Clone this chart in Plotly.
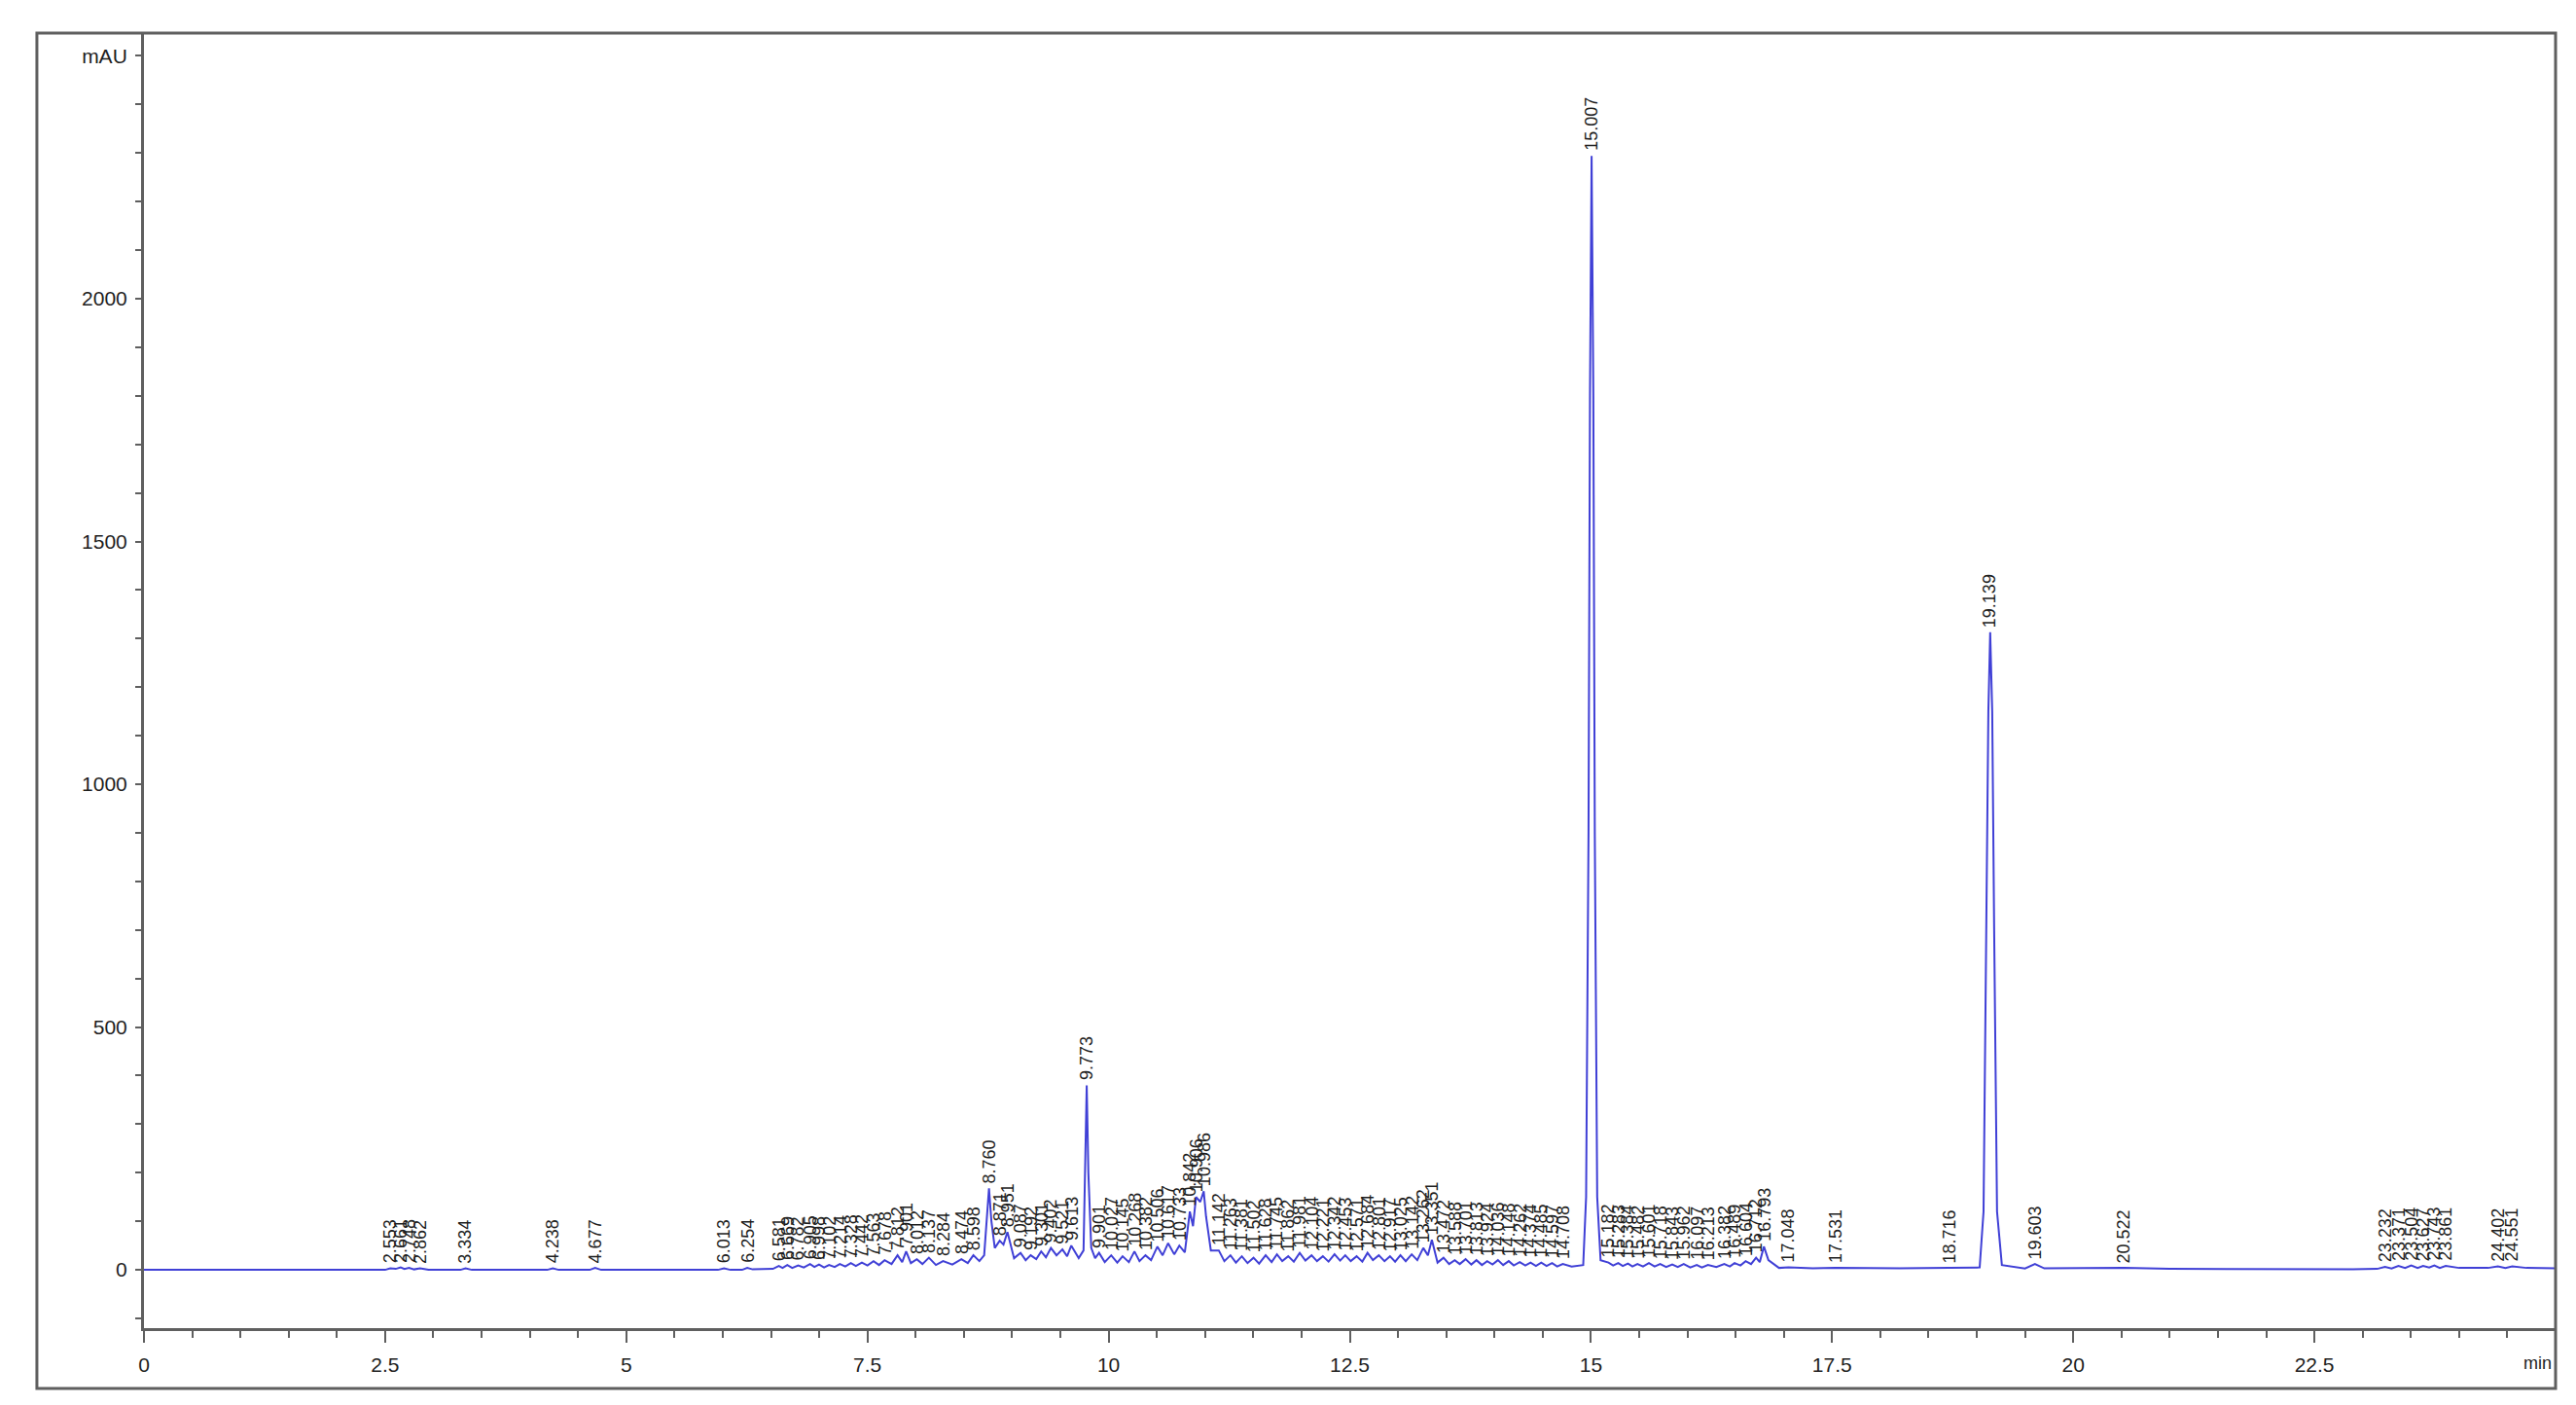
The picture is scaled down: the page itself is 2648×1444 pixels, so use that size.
import plotly.graph_objects as go

# labelled peaks: retention time (min) and apex signal (mAU)
peak_rt = [2.553, 2.661, 2.748, 2.862, 3.334, 4.238, 4.677, 6.013, 6.254,
           6.581, 6.669, 6.782, 6.905, 6.998, 7.102, 7.214, 7.328, 7.442, 7.563,
           7.678, 7.812, 7.901, 8.012, 8.137, 8.284, 8.474, 8.598, 8.760, 8.871,
           8.951, 9.087, 9.192, 9.301, 9.402, 9.521, 9.613, 9.773, 9.901, 10.027,
           10.145, 10.268, 10.382, 10.506, 10.617, 10.733, 10.842, 10.906, 10.986, 11.142,
           11.263, 11.381, 11.502, 11.628, 11.745, 11.862, 11.981, 12.104, 12.221, 12.342,
           12.453, 12.571, 12.684, 12.801, 12.917, 13.025, 13.142, 13.262, 13.351, 13.472,
           13.588, 13.701, 13.813, 13.924, 14.036, 14.148, 14.262, 14.374, 14.485, 14.597,
           14.708, 15.007, 15.182, 15.283, 15.384, 15.482, 15.601, 15.718, 15.843, 15.962,
           16.097, 16.213, 16.382, 16.489, 16.604, 16.712, 16.793, 17.048, 17.531, 18.716,
           19.139, 19.603, 20.522, 23.232, 23.371, 23.504, 23.627, 23.743, 23.861, 24.402,
           24.551]
peak_mau = [3, 5, 4, 3, 3, 3, 4, 3, 4,
            8, 10, 9, 12, 11, 10, 12, 14, 15, 18,
            20, 30, 38, 22, 25, 18, 22, 30, 168, 60,
            78, 35, 30, 38, 45, 42, 50, 380, 35, 30,
            28, 38, 30, 48, 55, 50, 120, 150, 162, 40,
            30, 28, 25, 30, 32, 28, 35, 30, 28, 32,
            30, 28, 35, 30, 28, 30, 32, 45, 62, 25,
            20, 22, 20, 18, 20, 18, 16, 15, 15, 14,
            12, 2294, 15, 14, 13, 12, 14, 12, 11, 12,
            10, 10, 12, 14, 18, 25, 48, 5, 4, 4,
            1313, 12, 4, 6, 8, 9, 8, 9, 8, 7,
            7]

# valleys and flank points of the trace (min, mAU)
valley_t = [0.0, 2.50, 2.61, 2.70, 2.80, 2.95, 3.28, 3.40, 4.18, 4.30, 4.62, 4.74,
            5.95, 6.08, 6.20, 6.31, 6.52, 6.62, 6.72, 6.84, 6.95, 7.05, 7.16, 7.27,
            7.38, 7.50, 7.62, 7.75, 7.86, 7.95, 8.07, 8.21, 8.38, 8.54, 8.66, 8.71,
            8.735, 8.785, 8.82, 8.91, 9.02, 9.14, 9.25, 9.35, 9.46, 9.57, 9.69, 9.74,
            9.755, 9.79, 9.82, 9.86, 9.96, 10.09, 10.21, 10.32, 10.44, 10.56, 10.68, 10.79,
            10.875, 10.95, 11.01, 11.06, 11.20, 11.32, 11.44, 11.56, 11.69, 11.80, 11.92,
            12.04, 12.16, 12.28, 12.40, 12.51, 12.63, 12.74, 12.86, 12.97, 13.08, 13.20,
            13.31, 13.41, 13.53, 13.64, 13.76, 13.87, 13.98, 14.09, 14.20, 14.32, 14.43,
            14.54, 14.65, 14.80, 14.92, 14.95, 14.975, 14.99, 15.025, 15.04, 15.065, 15.10,
            15.23, 15.33, 15.43, 15.54, 15.66, 15.78, 15.90, 16.03, 16.15, 16.30, 16.44,
            16.55, 16.66, 16.75, 16.84, 16.95, 17.30, 18.20, 19.03, 19.07, 19.10, 19.12,
            19.16, 19.18, 19.21, 19.26, 19.50, 19.70, 21.00, 22.90, 23.15, 23.30, 23.44,
            23.57, 23.69, 23.80, 24.00, 24.30, 24.48, 24.70, 25.0]
valley_mau = [0, 0, 2, 2, 1, 0, 0, 0, 0, 0, 0, 0,
              0, 0, 0, 1, 2, 4, 4, 5, 6, 5, 6, 7,
              8, 9, 10, 12, 16, 14, 12, 10, 11, 14, 18, 30,
              110, 100, 45, 52, 24, 20, 22, 26, 30, 28, 24, 40,
              200, 200, 45, 24, 16, 15, 16, 18, 20, 30, 32, 36,
              90, 140, 110, 40, 18, 15, 14, 13, 16, 18, 17,
              19, 18, 17, 19, 18, 17, 20, 18, 17, 18, 20,
              30, 15, 12, 12, 11, 10, 11, 10, 9, 9, 8,
              8, 7, 7, 10, 150, 900, 1800, 1800, 900, 150, 20,
              9, 8, 7, 7, 7, 6, 6, 5, 5, 6, 7,
              9, 12, 16, 20, 4, 3, 3, 5, 120, 700, 1150,
              1150, 700, 120, 10, 3, 3, 2, 1, 2, 3, 4,
              4, 5, 4, 4, 4, 4, 4, 3]

x_ticks = [0, 2.5, 5, 7.5, 10, 12.5, 15, 17.5, 20, 22.5]
x_labels = ['0', '2.5', '5', '7.5', '10', '12.5', '15', '17.5', '20', '22.5']
y_ticks = [0, 500, 1000, 1500, 2000, 2500]
y_labels = ['0', '500', '1000', '1500', '2000', 'mAU']

pts = sorted(list(zip(peak_rt, peak_mau)) + list(zip(valley_t, valley_mau)))
trace_t = [p[0] for p in pts]
trace_mau = [p[1] for p in pts]

axis_grey = '#5f5f5f'
text_grey = '#1e1e1e'

fig = go.Figure()
fig.add_trace(go.Scatter(
    x=trace_t, y=trace_mau, mode='lines',
    line=dict(color='#4040d6', width=2),
    hoverinfo='x+y', showlegend=False,
))

# retention time labels, rotated above each peak
for rt, h in zip(peak_rt, peak_mau):
    fig.add_annotation(
        x=rt, y=h, text='%.3f' % rt, showarrow=False, textangle=-90,
        xanchor='center', yanchor='bottom', yshift=3,
        font=dict(family='Liberation Sans, Arial', size=18, color=text_grey),
    )

fig.add_annotation(
    x=25, y=0, xref='x', yref='paper', text='min', showarrow=False,
    xanchor='right', yanchor='middle', yshift=-36, xshift=-2,
    font=dict(family='Liberation Sans, Arial', size=18, color=text_grey),
)

# outer frame around the whole chart
fig.add_shape(type='rect', xref='paper', yref='paper',
              x0=-0.0444, x1=1.0, y0=-0.0466, y1=1.0,
              line=dict(color=axis_grey, width=3))

fig.update_layout(
    width=2648, height=1444,
    margin=dict(l=140, r=29, t=26, b=87),
    plot_bgcolor='white', paper_bgcolor='white',
    font=dict(family='Liberation Sans, Arial', color=text_grey),
    xaxis=dict(
        range=[0, 25], tickvals=x_ticks, ticktext=x_labels,
        showgrid=False, zeroline=False,
        showline=True, linecolor=axis_grey, linewidth=3,
        ticks='outside', ticklen=12, tickwidth=2, tickcolor=axis_grey,
        tickfont=dict(size=21, color=text_grey), ticklabelstandoff=5,
        minor=dict(dtick=0.5, tick0=0, ticks='outside', ticklen=7,
                   tickwidth=2, tickcolor=axis_grey),
    ),
    yaxis=dict(
        range=[-120, 2547], tickvals=y_ticks, ticktext=y_labels,
        showgrid=False, zeroline=False,
        showline=True, linecolor=axis_grey, linewidth=3,
        ticks='outside', ticklen=6, tickwidth=2, tickcolor=axis_grey,
        tickfont=dict(size=21, color=text_grey), ticklabelstandoff=4,
        minor=dict(dtick=100, tick0=0, ticks='outside', ticklen=6,
                   tickwidth=2, tickcolor=axis_grey),
    ),
)

fig.write_html('out.html')
